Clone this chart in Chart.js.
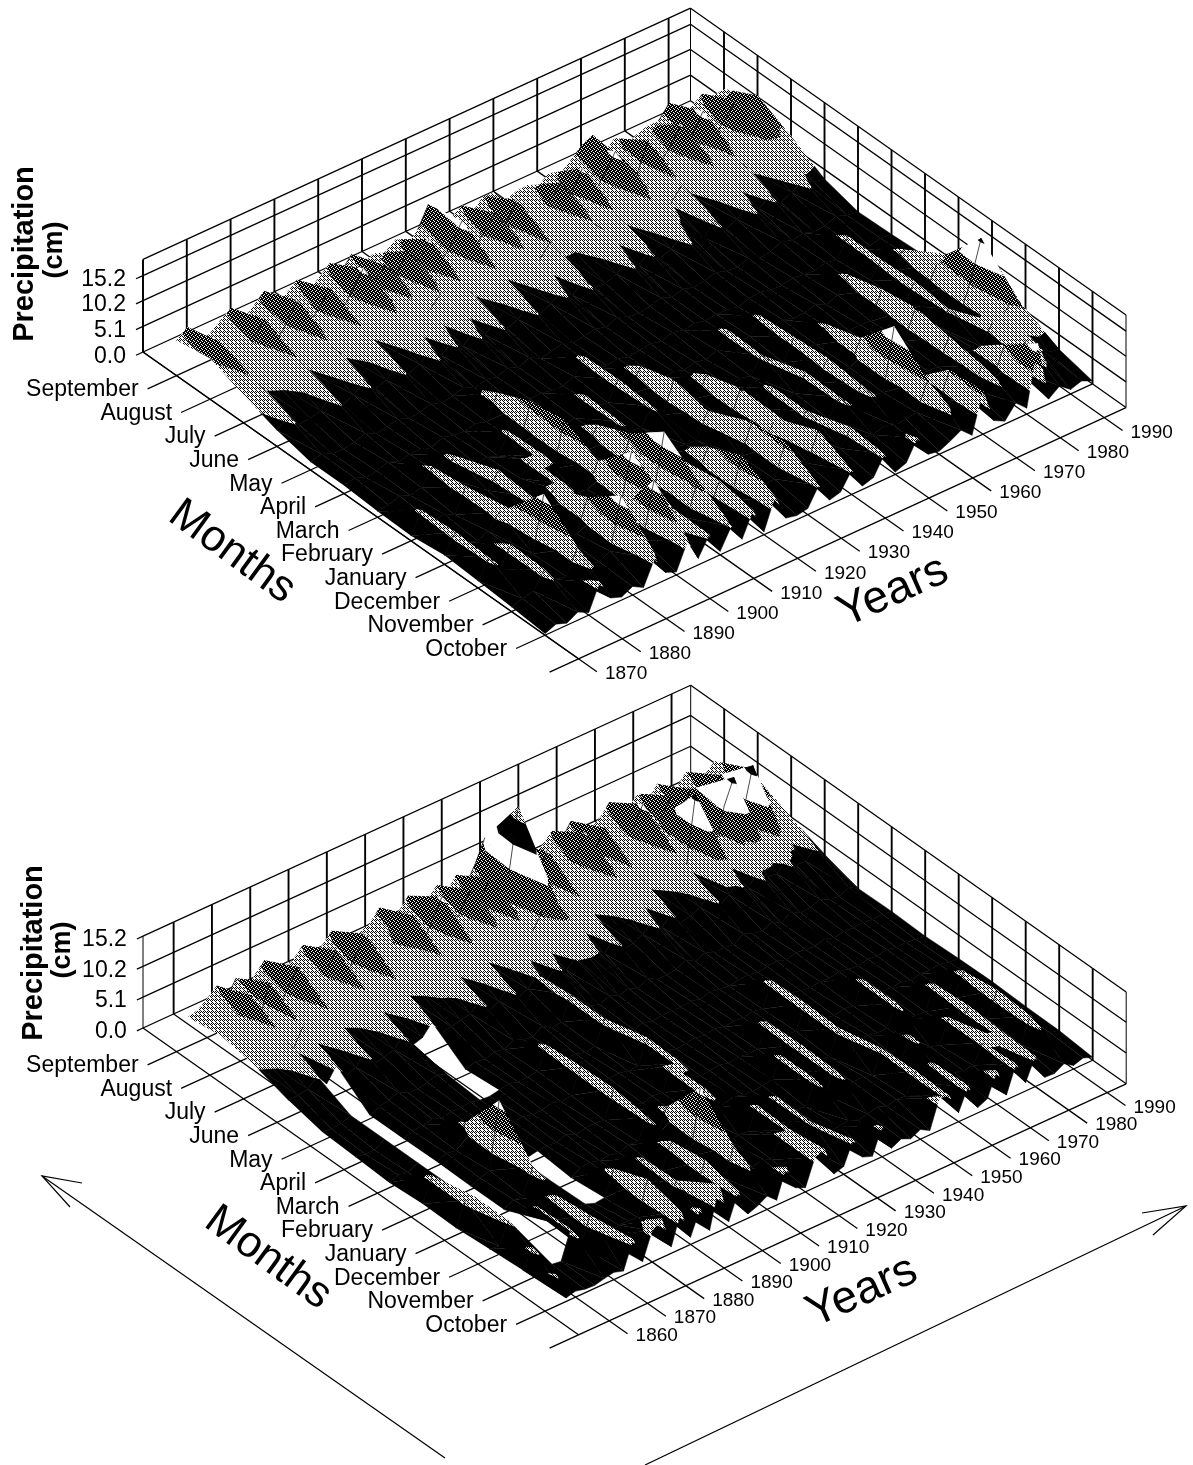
<!DOCTYPE html>
<html>
<head>
<meta charset="utf-8">
<title>Precipitation by month and year</title>
<script src="https://cdn.jsdelivr.net/npm/chart.js@4"></script>
<style>
  html, body { margin: 0; padding: 0; background: #fff; }
  canvas { display: block; }
</style>
</head>
<body>
<canvas id="chart" width="1193" height="1465"></canvas>
<script>
// Tick labels
const monthLabels = ['September','August','July','June','May','April','March','February','January','December','November','October'];
const zTicks = [0.0, 5.1, 10.2, 15.2];
const topDecades = [1870,1880,1890,1900,1910,1920,1930,1940,1950,1960,1970,1980,1990];
const bottomDecades = [1860,1870,1880,1890,1900,1910,1920,1930,1940,1950,1960,1970,1980,1990];

// Upper surface, cm. One row per 2.5 years from 1870, columns Sep ... Oct
const top1870s = [
  [7.0,8.2,5.6,3.2,1.6,1.6,1.2,1.0,1.8,1.4,0.9,0.3],
  [8.6,10.2,7.4,5.0,2.2,2.1,1.5,5.0,5.4,5.0,1.6,1.2],
  [4.8,5.6,4.4,2.4,1.3,1.2,2.2,1.7,2.4,1.8,2.1,0.4],
  [5.2,6.4,4.8,2.6,1.2,1.5,1.3,2.4,1.7,5.6,5.4,1.6]];
const top1880s = [
  [6.9,8.3,5.7,3.1,1.5,2.3,1.9,1.2,2.6,2.2,2.4,0.5],
  [8.4,10.8,7.6,5.2,2.3,1.4,5.0,5.8,5.4,1.8,2.0,5.6],
  [4.9,5.3,4.2,2.3,1.2,1.9,2.1,1.6,5.0,12.6,6.6,1.4],
  [6.7,8.1,5.9,3.3,1.6,1.8,5.2,3.0,1.9,2.4,2.3,0.6]];
const top1890s = [
  [8.8,11.6,7.2,4.9,2.1,1.1,1.4,6.0,5.4,2.0,1.9,1.7],
  [5.0,5.8,4.6,2.5,1.3,2.2,1.7,1.3,2.2,1.8,3.0,0.5],
  [6.2,8.4,5.5,3.2,1.5,1.6,2.0,2.4,5.0,8.0,13.0,5.2],
  [8.0,10.9,7.5,5.1,2.2,1.4,1.2,5.2,5.0,2.6,2.4,1.5]];
const top1900s = [
  [4.6,5.4,4.3,2.4,1.4,1.9,5.0,5.2,2.1,1.7,2.2,0.6],
  [6.4,8.6,6.0,3.4,1.7,1.3,1.6,1.4,1.9,3.0,13.0,5.6],
  [8.3,12.0,7.8,5.2,2.4,6.0,9.0,10.0,6.5,13.0,7.6,1.3],
  [5.6,8.2,5.6,3.1,1.3,1.7,2.3,1.9,2.2,2.0,4.6,5.0]];
const top1910s = [
  [8.1,10.6,7.1,4.8,2.0,1.2,1.5,2.0,2.4,2.1,2.6,0.7],
  [5.2,7.9,5.4,3.0,1.5,1.8,1.3,6.0,9.0,14.0,9.0,4.6],
  [6.2,11.4,7.7,5.0,2.3,2.0,1.7,2.6,2.0,2.5,2.2,1.1],
  [5.4,8.4,5.8,3.2,1.4,1.5,5.2,4.8,1.6,6.0,7.0,5.8]];
const top1920s = [
  [7.0,11.8,7.4,5.1,2.4,1.4,2.2,1.9,2.0,2.4,2.0,0.6],
  [4.8,5.7,4.5,2.5,1.2,2.3,1.8,1.5,2.3,7.0,10.0,6.5],
  [6.9,8.8,6.0,3.3,1.6,5.2,5.4,4.8,1.9,2.2,3.0,1.3],
  [11.0,12.4,7.9,5.2,2.2,1.7,1.4,2.1,1.7,2.6,2.1,0.8]];
const top1930s = [
  [5.0,5.5,4.2,2.3,1.3,1.5,6.0,8.0,6.5,2.2,2.4,1.2],
  [6.0,8.1,5.7,3.4,1.6,1.9,2.2,1.6,2.4,8.0,8.6,4.8],
  [7.8,11.0,7.3,4.9,2.1,1.2,1.6,2.3,2.0,2.6,2.2,0.9],
  [5.4,7.8,5.3,3.1,1.4,1.6,2.0,6.0,8.0,6.0,2.5,1.5]];
const top1940s = [
  [7.6,11.6,7.9,5.1,2.4,1.8,1.3,2.2,2.6,5.2,8.0,4.8],
  [7.4,6.0,4.6,2.6,1.5,1.3,1.9,1.5,2.0,2.4,2.0,0.7],
  [4.8,6.2,4.6,2.4,1.2,2.1,1.4,2.3,5.2,5.2,2.5,1.4],
  [5.6,8.4,5.9,3.3,1.6,1.5,2.2,1.8,1.8,2.4,5.6,5.0]];
const top1950s = [
  [5.8,11.0,7.6,5.0,2.3,1.9,5.2,4.9,2.0,1.7,2.6,0.5],
  [4.6,7.7,5.3,3.0,1.4,1.4,1.8,2.6,5.2,5.0,2.2,1.3],
  [6.2,11.9,7.4,4.8,2.0,1.7,2.0,1.5,2.4,2.1,2.9,5.2],
  [5.0,5.6,4.4,2.5,1.3,1.6,5.0,5.5,6.0,5.4,2.0,1.0]];
const top1960s = [
  [6.8,8.7,6.0,3.3,1.7,1.2,1.9,2.4,1.7,2.3,2.4,0.6],
  [8.8,12.2,8.0,5.2,2.3,1.8,2.3,2.0,2.2,1.9,2.6,1.6],
  [9.8,9.0,6.0,3.4,1.6,2.1,1.6,5.0,7.0,14.0,8.0,2.8],
  [5.2,5.8,4.6,2.5,1.4,1.5,1.7,2.2,1.6,2.4,2.2,0.8]];
const top1970s = [
  [7.2,11.3,7.2,4.9,2.2,1.4,2.4,1.8,2.3,1.9,8.0,8.6],
  [4.7,5.4,4.2,2.3,1.2,1.9,1.3,2.0,2.7,2.2,2.6,1.7],
  [5.9,8.3,5.8,3.2,1.5,1.6,2.2,1.7,2.4,2.0,2.3,0.6],
  [6.6,11.6,7.7,5.1,2.4,1.4,5.2,7.0,8.0,7.0,6.0,3.2]];
const top1980s = [
  [6.6,8.2,5.6,3.3,1.7,2.0,1.5,1.7,2.2,2.8,2.4,1.2],
  [9.2,12.2,7.5,4.9,2.1,1.5,2.2,1.9,2.4,3.0,8.0,13.0],
  [5.1,5.9,4.7,2.6,1.4,5.2,5.2,5.6,4.8,2.0,2.4,1.0],
  [6.4,8.6,6.1,3.5,1.6,1.6,2.0,2.5,2.2,6.0,7.0,2.6]];
const top1990s = [
  [8.0,11.4,7.4,5.0,2.5,1.3,5.2,7.0,8.0,6.5,4.8,0.9],
  [6.6,10.0,7.8,3.6,1.7,1.8,2.2,8.0,15.8,9.0,2.6,1.6],
  [7.0,10.4,7.0,3.2,1.4,1.6,2.0,2.6,5.0,5.0,2.2,0.6]];

// Lower surface, cm. One row per 2.5 years from 1855, null = no record
const bot1850s = [
  [4.8,5.6,4.6,2.8,1.5,1.2,0.9,1.3,1.2,1.6,2.0,5.2],
  [5.2,6.4,4.9,2.9,1.2,1.0,1.4,5.2,5.0,1.4,5.0,0.6]];
const bot1860s = [
  [6.4,8.2,5.6,3.2,1.4,0.9,1.1,1.3,4.8,4.8,1.7,1.0],
  [7.8,10.2,7.0,4.6,2.0,2.0,2.0,2.0,2.0,2.0,0.8,0.6],
  [4.8,5.8,4.5,2.6,null,null,null,null,null,null,0.6,0.5],
  [7.6,10.8,7.4,4.9,0.6,0.6,0.7,0.6,0.6,5.0,5.2,0.9]];
const bot1870s = [
  [4.6,6.0,4.6,2.5,1.3,1.1,1.4,1.2,1.5,1.9,1.6,1.2],
  [6.8,8.6,6.0,3.2,1.6,1.4,1.1,1.7,1.3,5.4,6.0,0.7],
  [8.4,11.2,7.4,4.9,2.2,1.7,5.0,12.5,5.5,1.6,1.6,5.2],
  [4.9,5.8,4.4,2.4,1.4,1.1,1.3,1.5,1.4,2.0,1.4,0.8]];
const bot1880s = [
  [5.2,6.6,4.8,2.7,1.3,1.5,1.2,1.6,1.6,1.8,2.2,5.2],
  [6.4,8.4,5.8,3.2,1.7,1.4,1.6,1.0,null,1.2,2.2,6.4],
  [8.0,11.0,7.2,4.8,2.2,1.6,1.2,1.3,0.8,1.4,2.0,1.1],
  [5.0,6.2,4.6,2.5,1.6,1.2,1.5,1.4,1.7,5.4,7.6,6.2]];
const bot1890s = [
  [6.5,8.8,5.9,3.0,null,1.1,1.6,1.3,1.9,1.5,1.7,1.2],
  [8.2,11.6,7.5,4.8,0.9,1.4,1.2,1.8,1.4,1.7,1.9,5.2],
  [4.7,5.6,4.3,2.3,1.4,1.7,1.3,1.1,1.6,5.0,5.2,0.9],
  [5.1,6.4,4.7,2.6,1.2,1.3,1.8,1.5,1.3,1.9,2.4,7.8]];
const bot1900s = [
  [5.8,7.8,5.4,3.0,1.6,1.4,1.2,1.6,1.9,1.4,1.8,0.9],
  [6.6,8.8,6.1,3.3,1.3,1.6,1.5,1.3,1.7,5.6,6.4,5.2],
  [8.4,11.0,7.3,4.9,2.1,5.2,5.6,5.8,5.0,1.6,1.5,0.7],
  [4.8,5.9,4.5,2.4,1.5,1.2,1.7,1.4,1.2,1.8,2.0,1.3]];
const bot1910s = [
  [6.3,8.6,5.9,3.2,1.2,1.5,1.3,1.9,5.2,12.2,6.5,2.2],
  [8.2,11.9,7.6,5.0,2.3,1.6,1.4,1.2,1.5,1.4,2.1,0.8],
  [4.9,5.6,4.3,2.4,1.3,1.1,1.6,1.7,1.3,1.9,1.6,5.5],
  [6.1,8.3,5.7,3.1,1.5,1.4,1.2,1.5,1.8,1.3,2.3,1.4]];
const bot1920s = [
  [7.8,10.8,7.1,4.7,5.2,5.2,1.3,5.2,5.4,1.6,1.4,0.7],
  [5.8,8.2,5.6,3.1,1.4,1.2,5.2,5.0,1.6,1.5,5.0,5.0],
  [8.0,11.4,7.3,4.8,2.0,1.5,1.3,1.7,1.4,5.0,4.8,5.6],
  [5.6,8.5,5.8,3.3,1.5,1.3,1.8,1.4,1.9,1.5,1.8,0.8]];
const bot1930s = [
  [8.4,10.6,8.4,4.6,2.2,1.6,1.2,1.5,1.4,5.0,4.8,1.3],
  [12.0,21.0,10.0,4.8,1.5,1.2,1.4,1.8,1.3,1.7,2.0,5.0],
  [7.8,10.4,6.8,4.7,2.0,1.4,1.6,1.3,1.5,1.4,1.6,1.4],
  [5.5,8.0,5.4,3.1,1.2,1.5,1.3,1.6,1.8,1.2,1.9,0.8]];
const bot1940s = [
  [8.2,11.7,7.6,5.0,2.2,1.3,1.7,1.4,5.0,5.0,2.1,5.0],
  [4.8,5.7,4.4,2.3,1.3,1.6,1.2,1.5,1.3,1.8,1.4,0.7],
  [5.3,6.7,5.0,2.7,1.3,1.2,1.5,5.2,5.4,5.2,1.7,1.5],
  [6.4,8.7,6.0,3.4,1.5,1.7,1.3,1.2,1.6,1.4,2.2,0.8]];
const bot1950s = [
  [8.0,11.6,7.5,4.9,2.3,1.4,1.6,1.7,1.4,1.6,1.5,1.6],
  [5.9,8.1,5.6,3.1,1.4,1.2,1.3,1.5,1.2,1.9,2.0,0.7],
  [8.2,11.0,7.2,4.7,2.1,1.5,5.2,5.4,5.2,1.3,1.8,5.4],
  [4.9,5.8,4.6,2.5,1.3,1.6,1.2,1.4,1.7,5.0,5.2,5.0]];
const bot1960s = [
  [5.4,6.8,5.2,2.8,1.5,1.3,1.8,1.5,1.3,1.6,2.3,1.5],
  [6.5,8.9,6.2,3.5,1.2,1.5,1.4,1.2,1.9,1.4,5.0,5.2],
  [8.4,12.0,7.8,5.1,2.3,1.7,1.2,1.6,1.5,5.0,1.8,0.9],
  [4.7,5.5,4.2,2.3,1.6,1.2,1.5,1.3,1.6,1.9,2.1,1.6]];
const bot1970s = [
  [6.2,8.5,16.0,3.4,1.3,1.6,1.3,5.0,5.0,1.7,1.6,5.5],
  [7.6,11.2,7.4,4.8,2.1,1.4,1.7,1.4,1.6,1.2,1.8,0.8],
  [5.7,8.0,5.5,3.1,1.2,1.3,1.4,1.6,1.5,5.0,4.8,5.2],
  [7.8,10.8,12.0,5.0,2.3,1.7,1.2,1.5,1.4,1.8,5.2,1.4]];
const bot1980s = [
  [5.0,8.2,16.0,3.5,1.4,1.2,1.6,1.7,5.2,5.6,5.2,5.0],
  [5.6,7.8,9.6,3.2,1.6,1.5,1.3,1.2,1.8,1.6,2.0,0.8],
  [7.6,11.0,16.5,4.9,2.2,1.4,1.7,1.6,1.4,1.9,1.6,0.7],
  [5.2,7.2,8.0,3.2,1.5,1.6,1.3,1.5,5.2,6.0,5.6,1.6]];
const bot1990s = [
  [5.8,7.6,6.0,3.2,1.2,1.3,1.4,1.7,1.5,1.9,1.3,0.6],
  [7.2,10.0,6.9,4.6,2.0,1.5,1.2,1.3,1.6,1.2,1.4,1.1],
  [5.2,6.6,5.0,2.8,1.1,1.2,1.0,1.2,1.3,1.1,1.0,0.5]];

const topGrid = [].concat(top1870s, top1880s, top1890s, top1900s, top1910s, top1920s, top1930s,
  top1940s, top1950s, top1960s, top1970s, top1980s, top1990s);
const bottomGrid = [].concat(bot1850s, bot1860s, bot1870s, bot1880s, bot1890s, bot1900s, bot1910s,
  bot1920s, bot1930s, bot1940s, bot1950s, bot1960s, bot1970s, bot1980s, bot1990s);

// Contour levels in cm, each band gets a tone
const bandLevels = [0, 4.4, 7.8, 11.4, 15.2, 19, 22.9, 26.7];

// Halftone tiles, 1 = black pixel
const lightTile = [[1,0,1,0],[0,0,0,1],[1,0,0,0],[0,1,0,1]];
const darkTile = [[1,0,1,1],[1,1,0,1],[0,1,1,1],[1,1,1,0]];

function makeTone(tile) {
  const c = document.createElement('canvas');
  c.width = c.height = tile.length;
  const g = c.getContext('2d');
  g.fillStyle = '#fff';
  g.fillRect(0, 0, c.width, c.height);
  g.fillStyle = '#000';
  tile.forEach((row, y) => row.forEach((v, x) => { if (v) g.fillRect(x, y, 1, 1); }));
  return g.createPattern(c, 'repeat');
}
const lightTone = makeTone(lightTile);
const darkTone = makeTone(darkTile);
const bandTones = ['#000', lightTone, darkTone, '#fff', '#000', lightTone, darkTone];

// Projection of each panel onto the page
const topPanel = {
  x0: 143, y0: 352, year0: 1870, yearEnd: 1995, perYearX: 4.38, perYearY: -2.01,
  monthX: 33.5, monthY: 23.6, zScale: 5.03, wallTop: 18.4, firstRow: 1870, grid: topGrid,
  decades: topDecades, wallLevels: [0, 5.1, 10.2, 15.2, 18.4]
};
const bottomPanel = {
  x0: 143, y0: 1028, year0: 1852, yearEnd: 1995, perYearX: 3.83, perYearY: -1.755,
  monthX: 33.5, monthY: 23.6, zScale: 6.04, wallTop: 15.2, firstRow: 1855, grid: bottomGrid,
  decades: bottomDecades, wallLevels: [0, 5.1, 10.2, 15.2]
};
const rowStep = 2.5;
const tickOverYears = -6.6;  // month ticks run past the first year
const tickOverMonths = 13.55; // year ticks run past the last month

function project(p, year, month, z) {
  const t = year - p.year0;
  return { x: p.x0 + p.perYearX * t + p.monthX * month, y: p.y0 + p.perYearY * t + p.monthY * month - p.zScale * z };
}

const datasets = [];

function addLine(points, width) {
  datasets.push({ data: points, borderColor: '#000', borderWidth: width, fill: false });
}
function addPolygon(points, tone) {
  datasets.push({ data: points, borderColor: tone, backgroundColor: tone, borderWidth: 0.5, fill: 'shape' });
}

function addWalls(p) {
  const top = p.wallTop;
  p.wallLevels.forEach(z => {
    addLine([project(p, p.year0, 0, z), project(p, p.yearEnd, 0, z)], 1.3);
    addLine([project(p, p.yearEnd, 0, z), project(p, p.yearEnd, 13, z)], 1.3);
  });
  addLine([project(p, p.year0, 0, 0), project(p, p.year0, 0, top)], 1);
  addLine([project(p, p.yearEnd, 13, 0), project(p, p.yearEnd, 13, top)], 1);
  addLine([project(p, p.yearEnd, 0, 0), project(p, p.yearEnd, 0, top)], 1);
  p.decades.forEach(d => addLine([project(p, d, 0, 0), project(p, d, 0, top)], 1.9));
  for (let m = 1; m < 13; m++) addLine([project(p, p.yearEnd, m, 0), project(p, p.yearEnd, m, top)], 1.9);
  zTicks.forEach(z => addLine([project(p, p.year0, 0, z), project(p, p.year0 - 1.6, 0, z)], 1.3));
}

function addFloor(p) {
  const over = tickOverYears * 4.38 / p.perYearX;
  for (let m = 1; m <= 13; m++) addLine([project(p, p.year0 + over, m, 0), project(p, p.yearEnd, m, 0)], 1.3);
  addLine([project(p, p.year0, 0, 0), project(p, p.year0, 13, 0)], 1.3);
  p.decades.forEach(d => addLine([project(p, d, 0, 0), project(p, d, tickOverMonths, 0)], 1.3));
}

// Keep the part of a polygon where f >= 0
function clipHalf(poly, f) {
  const out = [];
  poly.forEach((a, i) => {
    const b = poly[(i + 1) % poly.length];
    const fa = f(a), fb = f(b);
    if (fa >= 0) out.push(a);
    if ((fa >= 0) !== (fb >= 0)) {
      const t = fa / (fa - fb);
      out.push({ year: a.year + (b.year - a.year) * t, month: a.month + (b.month - a.month) * t, z: a.z + (b.z - a.z) * t });
    }
  });
  return out;
}

function bandOf(z) {
  for (let i = bandLevels.length - 2; i >= 0; i--) if (z >= bandLevels[i]) return i;
  return 0;
}

function addBands(p, verts) {
  const bands = verts.map(v => bandOf(v.z));
  const lowest = Math.min(...bands), highest = Math.max(...bands);
  for (let b = lowest; b <= highest; b++) {
    const lo = bandLevels[b], hi = bandLevels[b + 1];
    let poly = lowest === highest ? verts : clipHalf(clipHalf(verts, v => v.z - lo), v => hi - v.z);
    if (poly.length >= 3) addPolygon(poly.map(v => project(p, v.year, v.month, v.z)), bandTones[b]);
  }
}

// Painter's order: from the back corner (late years, first months) to the front
function addSurface(p) {
  const g = p.grid;
  for (let m = 0; m < 11; m++) {
    for (let c = g.length - 2; c >= 0; c--) {
      const vals = [g[c][m], g[c + 1][m], g[c + 1][m + 1], g[c][m + 1]];
      if (vals.some(v => v === null)) continue;
      const y0 = p.firstRow + c * rowStep, y1 = y0 + rowStep;
      const a = { year: y0, month: m + 1, z: vals[0] };
      const b = { year: y1, month: m + 1, z: vals[1] };
      const d = { year: y1, month: m + 2, z: vals[2] };
      const e = { year: y0, month: m + 2, z: vals[3] };
      const tones = vals.map(bandOf);
      if (tones.every(t => t === tones[0])) {
        addPolygon([a, b, d, e].map(v => project(p, v.year, v.month, v.z)), bandTones[tones[0]]);
      } else {
        addBands(p, [a, b, d]);
        addBands(p, [a, d, e]);
      }
      // steep mesh edges show as thin dark stalks on the gray flanks
      if (Math.abs(vals[0] - vals[1]) > 2.2 && Math.max(vals[0], vals[1]) > 4.5) {
        addLine([project(p, a.year, a.month, a.z), project(p, b.year, b.month, b.z)], 0.7);
      }
    }
  }
}

[topPanel, bottomPanel].forEach(p => {
  addWalls(p);
  addFloor(p);
  addSurface(p);
});

// Direction arrows under the lower panel
addLine([{ x: 445, y: 1458 }, { x: 42, y: 1176 }], 1.2);
addLine([{ x: 70, y: 1207 }, { x: 42, y: 1176 }, { x: 82, y: 1183 }], 1.2);
addLine([{ x: 645, y: 1465 }, { x: 1186, y: 1206 }], 1.2);
addLine([{ x: 1142, y: 1213 }, { x: 1186, y: 1206 }, { x: 1153, y: 1235 }], 1.2);

// Chart.js paints the last dataset first
datasets.reverse();

const FONT = '"Liberation Sans", Arial, sans-serif';

const panelText = {
  id: 'panelText',
  afterDraw(chart) {
    const ctx = chart.ctx, sx = chart.scales.x, sy = chart.scales.y;
    const put = (text, x, y, font, align, angle) => {
      ctx.save();
      ctx.translate(sx.getPixelForValue(x), sy.getPixelForValue(y));
      ctx.rotate((angle || 0) * Math.PI / 180);
      ctx.font = font + ' ' + FONT;
      ctx.textAlign = align || 'left';
      ctx.textBaseline = 'middle';
      ctx.fillStyle = '#000';
      ctx.fillText(text, 0, 0);
      ctx.restore();
    };
    [topPanel, bottomPanel].forEach(p => {
      const over = tickOverYears * 4.38 / p.perYearX;
      monthLabels.forEach((name, i) => {
        const e = project(p, p.year0 + over, i + 1, 0);
        put(name, e.x - 9, e.y + 1, '23px', 'right');
      });
      p.decades.forEach(d => {
        const e = project(p, d, tickOverMonths, 0);
        put(String(d), e.x + 8, e.y + 2, '19px', 'left');
      });
      zTicks.forEach(z => {
        const e = project(p, p.year0 - 1.6, 0, z);
        put(z.toFixed(1), e.x - 10, e.y + 1, '23px', 'right');
      });
    });
    put('Precipitation', 25, 254, 'bold 29px', 'center', -90);
    put('(cm)', 55, 250, 'bold 27px', 'center', -90);
    put('Precipitation', 34, 953, 'bold 29px', 'center', -90);
    put('(cm)', 63, 950, 'bold 27px', 'center', -90);
    put('Months', 232, 552, '44px', 'center', 36);
    put('Years', 893, 592, '46px', 'center', -24);
    put('Months', 268, 1258, '44px', 'center', 36);
    put('Years', 862, 1292, '46px', 'center', -24);
  }
};

new Chart(document.getElementById('chart').getContext('2d'), {
  type: 'scatter',
  data: { datasets: datasets },
  plugins: [panelText],
  options: {
    responsive: false,
    animation: false,
    events: [],
    devicePixelRatio: 1,
    parsing: false,
    normalized: true,
    layout: { padding: 0 },
    elements: { point: { radius: 0, hoverRadius: 0 }, line: { tension: 0, borderCapStyle: 'butt', borderJoinStyle: 'miter' } },
    datasets: { scatter: { showLine: true, clip: false, spanGaps: true } },
    plugins: { legend: { display: false }, tooltip: { enabled: false } },
    scales: {
      x: { type: 'linear', min: 0, max: 1193, display: false },
      y: { type: 'linear', min: 0, max: 1465, reverse: true, display: false }
    }
  }
});
</script>
</body>
</html>
